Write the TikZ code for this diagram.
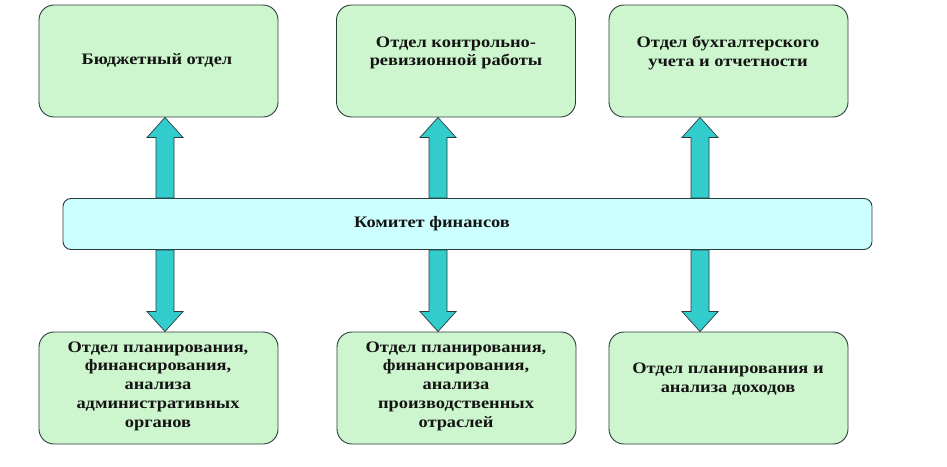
\documentclass[tikz,border=0pt]{standalone}
\usepackage{fontspec}
\setmainfont{Liberation Serif}[FakeStretch=1.15]
\usetikzlibrary{calc}
\definecolor{boxgreen}{RGB}{206,246,206}
\definecolor{barcyan}{RGB}{204,255,255}
\definecolor{arrteal}{RGB}{51,204,204}
\definecolor{edge}{RGB}{40,60,60}
\definecolor{ink}{RGB}{20,20,20}
\tikzset{
  greenbox/.style={draw=edge, line width=0.9pt, fill=boxgreen, rounded corners=15pt, minimum width=239pt, minimum height=112pt, inner sep=0pt},
  cyanbar/.style={draw=edge, line width=0.9pt, fill=barcyan, rounded corners=8pt, minimum width=809pt, minimum height=51pt, inner sep=0pt},
  lbl/.style={text=ink, font=\bfseries\fontsize{16}{18.7}\selectfont, align=center, inner sep=0pt},
  fatarr/.style={draw=edge, line width=0.7pt, fill=arrteal, line join=miter}
}
\newcommand\fatarrow[2]{%
  \draw[fatarr] let \p1=(#1), \p2=(#2), \n1={ifthenelse(\y2>\y1,1,-1)} in
    (\x1-9pt,\y1) -- (\x1-9pt,\y2-\n1*20pt) -- (\x1-18pt,\y2-\n1*20pt) -- (\x2,\y2)
    -- (\x1+18pt,\y2-\n1*20pt) -- (\x1+9pt,\y2-\n1*20pt) -- (\x1+9pt,\y1) -- cycle;}
\begin{document}
\begin{tikzpicture}[x=1pt,y=-1pt]
\useasboundingbox (0,0) rectangle (947,466);
% top boxes
\node[greenbox] (b1) at (158.5,61) {};
\node[greenbox] (b2) at (456,61) {};
\node[greenbox] (b3) at (728.5,61) {};
% bottom boxes
\node[greenbox] (c1) at (158.5,388) {};
\node[greenbox] (c2) at (456.5,388) {};
\node[greenbox] (c3) at (728.5,388) {};
% bar
\node[cyanbar] (bar) at (467.5,224) {};
% texts
\node[lbl] (t1) at (157,60) {Бюджетный отдел};
\node[lbl] (t2) at (456,53) {Отдел контрольно-\\ревизионной работы};
\node[lbl] (t3) at (728,53) {Отдел бухгалтерского\\учета и отчетности};
\node[lbl] (s1) at (158,386) {Отдел планирования,\\финансирования,\\анализа\\административных\\органов};
\node[lbl] (s2) at (456,386) {Отдел планирования,\\финансирования,\\анализа\\производственных\\отраслей};
\node[lbl] (s3) at (728,379) {Отдел планирования и\\анализа доходов};
\node[lbl] (tb) at (432,224) {Комитет финансов};
% arrow axes
\coordinate (a1) at (165,0);
\coordinate (a2) at (438,0);
\coordinate (a3) at (700,0);
\fatarrow{bar.north -| a1}{b1.south -| a1}
\fatarrow{bar.north -| a2}{b2.south -| a2}
\fatarrow{bar.north -| a3}{b3.south -| a3}
\fatarrow{bar.south -| a1}{c1.north -| a1}
\fatarrow{bar.south -| a2}{c2.north -| a2}
\fatarrow{bar.south -| a3}{c3.north -| a3}
\end{tikzpicture}
\end{document}
